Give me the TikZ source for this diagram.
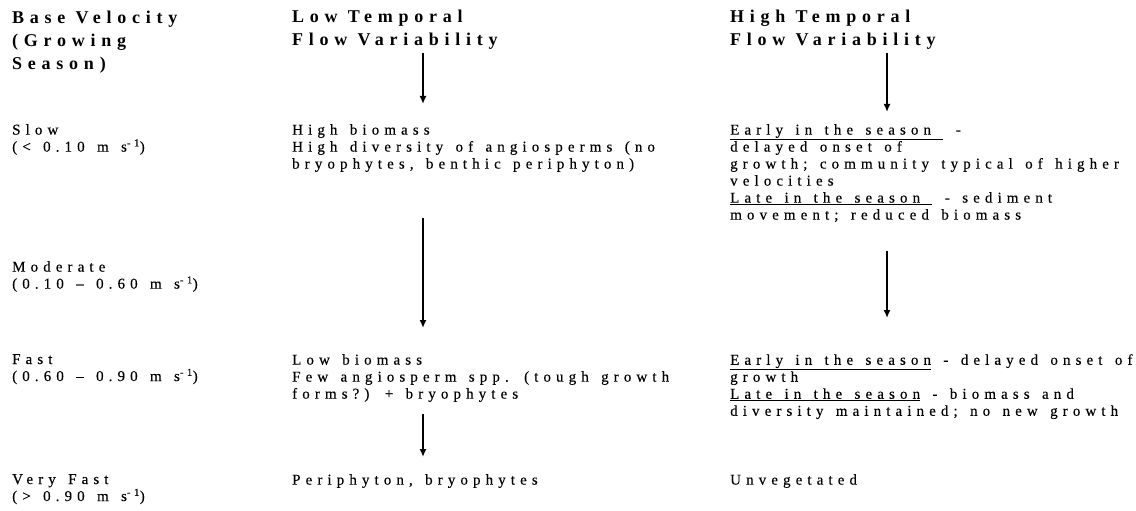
\documentclass[tikz,border=0pt]{standalone}
\usepackage{fontspec}
\setmainfont{Liberation Serif}
\newfontfamily\spacedfont[LetterSpace=34,WordSpace=1.4,FakeBold=0.3]{Liberation Serif}
\newfontfamily\spacedhead[LetterSpace=32]{Liberation Serif}
\usetikzlibrary{arrows.meta}

\tikzset{
 headtext/.style={anchor=north west, inner sep=0pt, align=left, font=\spacedhead\bfseries\fontsize{18}{23}\selectfont},
 bodytext/.style={anchor=north west, inner sep=0pt, align=left, font=\spacedfont\fontsize{15}{17}\selectfont},
 flowarrow/.style={-{Latex[length=8pt,width=7pt]}, line width=1.8pt}
}

\begin{document}
\begin{tikzpicture}[x=1pt,y=-1pt]
 \def\xa{12}
 \def\xb{292}
 \def\xc{730}
 \useasboundingbox (0,0) rectangle (1136,511);

 %Headers
 \node[headtext] (velhead) at (\xa,11) {Base Velocity\\(Growing\\Season)};
 \node[headtext] (lowhead) at (\xb,10) {Low Temporal\\Flow Variability};
 \node[headtext] (highhead) at (\xc,10) {High Temporal\\Flow Variability};

 %Velocity classes
 \node[bodytext] (slow) at (\xa,124) {Slow\\(< 0.10 m s\textsuperscript{-1})};
 \node[bodytext] (moderate) at (\xa,261) {Moderate\\(0.10 \textendash{} 0.60 m s\textsuperscript{-1})};
 \node[bodytext] (fast) at (\xa,354) {Fast\\(0.60 \textendash{} 0.90 m s\textsuperscript{-1})};
 \node[bodytext] (vfast) at (\xa,474) {Very Fast\\(> 0.90 m s\textsuperscript{-1})};

 %Low variability
 \node[bodytext] (lowslow) at (\xb,124) {High biomass\\High diversity of angiosperms (no\\bryophytes, benthic periphyton)};
 \node[bodytext] (lowfast) at (\xb,354) {Low biomass\\Few angiosperm spp. (tough growth\\forms?) + bryophytes};
 \node[bodytext] (lowvfast) at (\xb,474) {Periphyton, bryophytes};

 %High variability
 \node[bodytext] (highslow) at (\xc,124) {\underline{Early in the season\ } -\\delayed onset of\\growth; community typical of higher\\velocities\\\underline{Late in the season\ } - sediment\\movement; reduced biomass};
 \node[bodytext] (highfast) at (\xc,354) {\underline{Early in the season} - delayed onset of\\growth\\\underline{Late in the season} - biomass and\\diversity maintained; no new growth};
 \node[bodytext] (highvfast) at (\xc,474) {Unvegetated};

 %Arrows
 \coordinate (lowaxis) at (423,0);
 \coordinate (highaxis) at (887,0);
 \draw[flowarrow, shorten <=3pt, shorten >=20pt] (lowhead.south -| lowaxis) -- (lowslow.north -| lowaxis);
 \draw[flowarrow, shorten <=46pt, shorten >=26pt] (lowslow.south -| lowaxis) -- (lowfast.north -| lowaxis);
 \draw[flowarrow, shorten <=12pt, shorten >=17pt] (lowfast.south -| lowaxis) -- (lowvfast.north -| lowaxis);
 \draw[flowarrow, shorten <=3pt, shorten >=12pt] (highhead.south -| highaxis) -- (highslow.north -| highaxis);
 \draw[flowarrow, shorten <=29pt, shorten >=36pt] (highslow.south -| highaxis) -- (highfast.north -| highaxis);

\end{tikzpicture}
\end{document}
